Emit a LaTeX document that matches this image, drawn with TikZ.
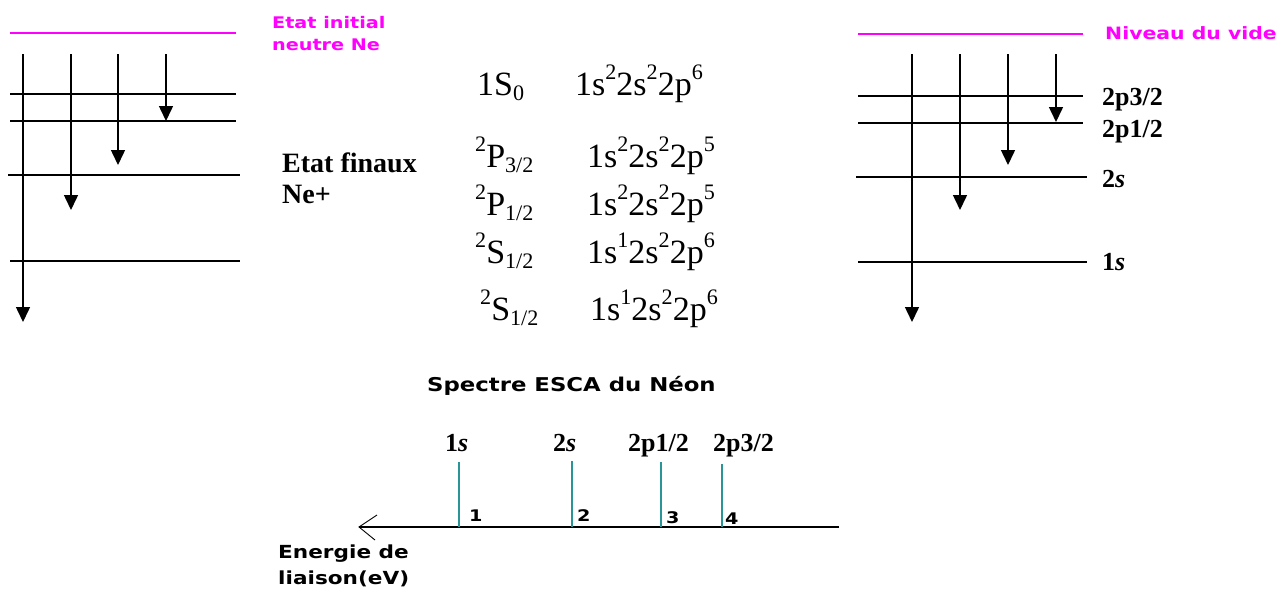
\documentclass[tikz,border=0pt]{standalone}
\usepackage{fontspec}
\setmainfont{Liberation Serif}
\newfontfamily\vsans{DejaVu Sans}[FakeStretch=1.2]
\usetikzlibrary{arrows.meta}
\definecolor{mag}{RGB}{255,0,255}
\definecolor{peakc}{RGB}{40,150,150}
\newcommand\hi[1]{\raisebox{0.45em}{\scalebox{0.65}{#1}}}
\newcommand\lo[1]{\raisebox{-0.17em}{\scalebox{0.65}{#1}}}
\tikzset{
  lvl/.style={line width=1.3pt},
  vac/.style={draw=mag,line width=1.5pt},
  ion/.style={line width=1.5pt,-{Triangle[length=15pt,width=14pt]}},
  peak/.style={draw=peakc,line width=1.6pt},
  txt/.style={inner sep=0pt,anchor=base west},
  big/.style={txt,font=\fontsize{34}{40}\selectfont},
  blab/.style={txt,font=\fontsize{26}{30}\selectfont\bfseries},
  num/.style={txt,font=\fontsize{16}{18}\selectfont\vsans\bfseries},
  sansl/.style={txt,font=\fontsize{18}{22}\selectfont\vsans\bfseries},
  magl/.style={txt,text=mag,font=\fontsize{16}{20}\selectfont\vsans\bfseries}
}
\begin{document}
\begin{tikzpicture}[x=1pt,y=-1pt]
\useasboundingbox (0,0) rectangle (1284,592);
% ---------- left panel ----------
\coordinate (lv0a) at (10,33);  \coordinate (lv0b) at (236,33);
\coordinate (lv1a) at (10,94);  \coordinate (lv1b) at (236,94);
\coordinate (lv2a) at (10,121); \coordinate (lv2b) at (236,121);
\coordinate (lv3a) at (8,175);  \coordinate (lv3b) at (240,175);
\coordinate (lv4a) at (10,261); \coordinate (lv4b) at (240,261);
\draw[vac] (lv0a) -- (lv0b);
\draw[lvl] (lv1a) -- (lv1b);
\draw[lvl] (lv2a) -- (lv2b);
\draw[lvl] (lv3a) -- (lv3b);
\draw[lvl] (lv4a) -- (lv4b);
\coordinate (la1) at (23,54);  \coordinate (lb1) at (23,322);
\coordinate (la2) at (71,54);  \coordinate (lb2) at (71,210);
\coordinate (la3) at (118,54); \coordinate (lb3) at (118,165);
\coordinate (la4) at (166,54); \coordinate (lb4) at (166,121);
\draw[ion] (la1) -- (lb1);
\draw[ion] (la2) -- (lb2);
\draw[ion] (la3) -- (lb3);
\draw[ion] (la4) -- (lb4);
\node[magl] (ini1) at (272,28) {Etat initial};
\node[magl] (ini2) at (272,50) {neutre Ne};
% ---------- centre ----------
\node[txt,font=\fontsize{28}{32}\selectfont\bfseries] (fin1) at (282,172) {Etat finaux};
\node[txt,font=\fontsize{28}{32}\selectfont\bfseries] (fin2) at (282,203) {Ne+};
\node[big] (s1) at (477,95) {1S\lo{0}};
\node[big] (c1) at (575,95) {1s\hi{2}2s\hi{2}2p\hi{6}};
\node[big] (s2) at (475,167) {\hi{2}P\lo{3/2}};
\node[big] (c2) at (587,167) {1s\hi{2}2s\hi{2}2p\hi{5}};
\node[big] (s3) at (475,215) {\hi{2}P\lo{1/2}};
\node[big] (c3) at (587,215) {1s\hi{2}2s\hi{2}2p\hi{5}};
\node[big] (s4) at (475,263) {\hi{2}S\lo{1/2}};
\node[big] (c4) at (587,263) {1s\hi{1}2s\hi{2}2p\hi{6}};
\node[big] (s5) at (480,320) {\hi{2}S\lo{1/2}};
\node[big] (c5) at (590,320) {1s\hi{1}2s\hi{2}2p\hi{6}};
% ---------- right panel ----------
\coordinate (rv0a) at (858,34);  \coordinate (rv0b) at (1083,34);
\coordinate (rv1a) at (858,96);  \coordinate (rv1b) at (1083,96);
\coordinate (rv2a) at (858,123); \coordinate (rv2b) at (1083,123);
\coordinate (rv3a) at (856,177); \coordinate (rv3b) at (1087,177);
\coordinate (rv4a) at (858,262); \coordinate (rv4b) at (1087,262);
\draw[vac] (rv0a) -- (rv0b);
\draw[lvl] (rv1a) -- (rv1b);
\draw[lvl] (rv2a) -- (rv2b);
\draw[lvl] (rv3a) -- (rv3b);
\draw[lvl] (rv4a) -- (rv4b);
\coordinate (ra1) at (912,54);  \coordinate (rb1) at (912,322);
\coordinate (ra2) at (960,54);  \coordinate (rb2) at (960,210);
\coordinate (ra3) at (1008,54); \coordinate (rb3) at (1008,165);
\coordinate (ra4) at (1056,54); \coordinate (rb4) at (1056,122);
\draw[ion] (ra1) -- (rb1);
\draw[ion] (ra2) -- (rb2);
\draw[ion] (ra3) -- (rb3);
\draw[ion] (ra4) -- (rb4);
\node[magl,font=\fontsize{17}{20}\selectfont\vsans\bfseries] (vide) at (1105,39) {Niveau du vide};
\node[blab] (r1) at (1102,105) {2p3/2};
\node[blab] (r2) at (1102,137) {2p1/2};
\node[blab] (r3) at (1102,187) {2\textit{s}};
\node[blab] (r4) at (1102,270) {1\textit{s}};
% ---------- spectrum ----------
\node[sansl,font=\fontsize{19}{22}\selectfont\vsans\bfseries] (title) at (427,391) {Spectre ESCA du Néon};
\coordinate (ax0) at (839,527);
\coordinate (ax1) at (359,527);
\draw[line width=1.3pt] (ax0) -- (ax1);
\coordinate (bt) at (377,515); \coordinate (bb) at (375,540);
\draw[line width=0.9pt] (bt) -- (ax1) -- (bb);
\coordinate (p1t) at (459,462); \coordinate (p1b) at (459,527);
\coordinate (p2t) at (572,461); \coordinate (p2b) at (572,527);
\coordinate (p3t) at (661,462); \coordinate (p3b) at (661,527);
\coordinate (p4t) at (722,464); \coordinate (p4b) at (722,527);
\draw[peak] (p1t) -- (p1b);
\draw[peak] (p2t) -- (p2b);
\draw[peak] (p3t) -- (p3b);
\draw[peak] (p4t) -- (p4b);
\node[blab] (k1) at (445,451) {1\textit{s}};
\node[blab] (k2) at (553,451) {2\textit{s}};
\node[blab] (k3) at (628,451) {2p1/2};
\node[blab] (k4) at (713,451) {2p3/2};
\node[num] (n1) at (469,521) {1};
\node[num] (n2) at (577,521) {2};
\node[num] (n3) at (666,523) {3};
\node[num] (n4) at (725,524) {4};
\node[sansl] (e1) at (278,558) {Energie de};
\node[sansl] (e2) at (278,584) {liaison(eV)};
\end{tikzpicture}
\end{document}
